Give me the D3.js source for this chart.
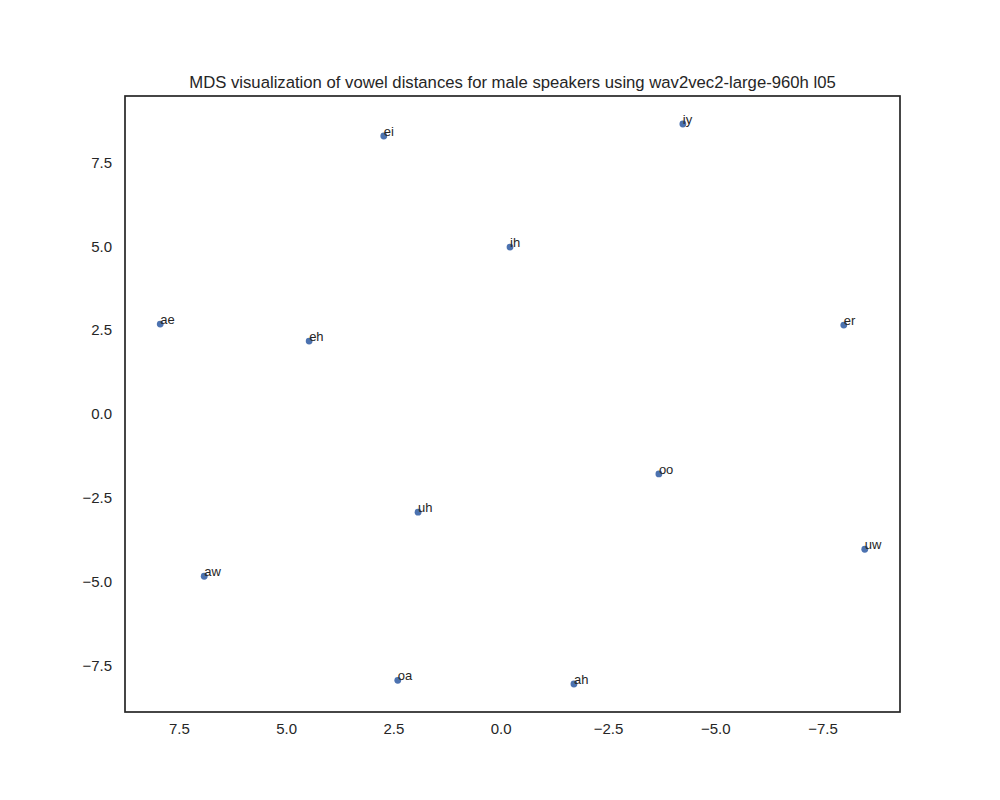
<!DOCTYPE html>
<html>
<head>
<meta charset="utf-8">
<script src="https://cdnjs.cloudflare.com/ajax/libs/d3/7.8.5/d3.min.js"></script>
<style>
  body { margin: 0; background: #fff; }
  text { font-family: "Liberation Sans", Arial, sans-serif; fill: #262626; }
</style>
</head>
<body>
<div id="chart"><svg></svg></div>
<script>
var vowels = ["ei", "iy", "ih", "ae", "eh", "er", "oo", "uw", "uh", "aw", "oa", "ah"];
var xValues = [2.725, -4.246, -0.217, 7.936, 4.465, -7.997, -3.687, -8.486, 1.926, 6.911, 2.399, -1.707];
var yValues = [8.290, 8.648, 4.976, 2.678, 2.170, 2.648, -1.791, -4.039, -2.934, -4.845, -7.949, -8.060];
var xTicks = [7.5, 5.0, 2.5, 0.0, -2.5, -5.0, -7.5];
var yTicks = [-7.5, -5.0, -2.5, 0.0, 2.5, 5.0, 7.5];
var title = "MDS visualization of vowel distances for male speakers using wav2vec2-large-960h l05";

var margin = { top: 96, right: 100, bottom: 88, left: 125 };
var width = 1000 - margin.left - margin.right;
var height = 800 - margin.top - margin.bottom;

var ds = vowels.map(function(v, i) {
  return { label: v, x: xValues[i], y: yValues[i] };
});

// matplotlib style 5% padding
var pad = function(ext) {
  var r = ext[1] - ext[0];
  return [ext[0] - 0.05 * r, ext[1] + 0.05 * r];
};
var xDom = pad(d3.extent(ds, function(d) { return d.x; }));
var yDom = pad(d3.extent(ds, function(d) { return d.y; }));

// x axis is inverted
var xScale = d3.scaleLinear().range([0, width]).domain([xDom[1], xDom[0]]);
var yScale = d3.scaleLinear().range([height, 0]).domain(yDom);

var fmt = function(v) { return d3.format(".1f")(v).replace("-", "\u2212"); };

var svg = d3.select("#chart svg").
  attr("width", 1000).
  attr("height", 800).
  append("g").
  attr("transform", "translate(" + margin.left + "," + margin.top + ")");

var xAxis = d3.axisBottom(xScale).
  tickValues(xTicks).
  tickFormat(fmt).
  tickSize(0).
  tickPadding(11);

var yAxis = d3.axisLeft(yScale).
  tickValues(yTicks).
  tickFormat(fmt).
  tickSize(0).
  tickPadding(13);

var gX = svg.append("g").
  attr("transform", "translate(0," + height + ")").
  call(xAxis);
var gY = svg.append("g").call(yAxis);

[gX, gY].forEach(function(g) {
  g.select(".domain").remove();
  g.selectAll("text").
    style("font-size", "15px").
    style("font-family", "'Liberation Sans', Arial, sans-serif").
    attr("fill", "#262626");
});

svg.append("g").selectAll("circle").
  data(ds).
  enter().append("circle").
  attr("cx", function(d) { return xScale(d.x); }).
  attr("cy", function(d) { return yScale(d.y); }).
  attr("r", 3.4).
  attr("fill", "#4c72b0");

svg.append("g").selectAll("text").
  data(ds).
  enter().append("text").
  attr("x", function(d) { return xScale(d.x); }).
  attr("y", function(d) { return yScale(d.y); }).
  style("font-size", "13px").
  text(function(d) { return d.label; });

svg.append("rect").
  attr("width", width).
  attr("height", height).
  attr("fill", "none").
  attr("stroke", "#262626").
  attr("stroke-width", 1.7);

svg.append("text").
  attr("x", width / 2).
  attr("y", -8).
  attr("text-anchor", "middle").
  style("font-size", "16.7px").
  text(title);
</script>
</body>
</html>
